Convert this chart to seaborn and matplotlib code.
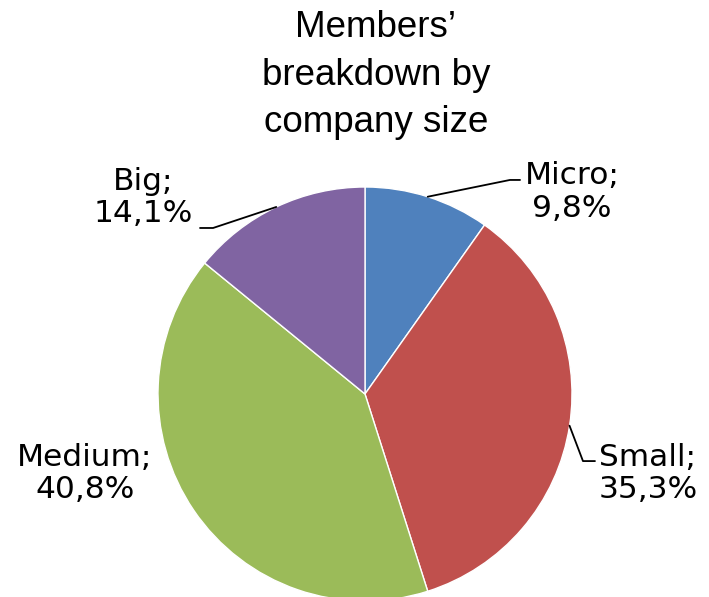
import matplotlib
matplotlib.use("Agg")
import matplotlib.pyplot as plt
import seaborn as sns

# data
sizes = ["Micro", "Small", "Medium", "Big"]
shares = [9.8, 35.3, 40.8, 14.1]
colours = ["#4F81BD", "#C0504D", "#9BBB59", "#8064A2"]

sns.set_style("white")
plt.rcParams['font.family'] = ['DejaVu Sans']
plt.rcParams['text.color'] = 'black'

fig = plt.figure(figsize=(7.09, 5.97), dpi=100)
W, H = 709, 597
cx, cy, r = 365, 394, 207  # pie centre / radius in pixels
ax = fig.add_axes([(cx - r) / W, (H - cy - r) / H, 2 * r / W, 2 * r / H])

wedges, _ = ax.pie(shares, colors=sns.color_palette(colours), startangle=90,
                   counterclock=False, radius=1,
                   wedgeprops=dict(edgecolor="white", linewidth=1))
ax.set_xlim(-1, 1)
ax.set_ylim(-1, 1)
ax.set_aspect("equal")
ax.axis("off")

def label(i):
    return f"{sizes[i]};\n{shares[i]:.1f}%".replace(".", ",")

# text positions and leader lines (data coords, radius = 1)
text_pos = [(1.0, 0.975), (1.367, -0.385), (-1.353, -0.385), (-1.072, 0.95)]
leaders = {
    0: [(0.303, 0.953), (0.70, 1.034), (0.749, 1.034)],
    1: [(0.988, -0.153), (1.053, -0.324), (1.111, -0.324)],
    3: [(-0.4286, 0.9035), (-0.734, 0.802), (-0.797, 0.802)],
}

for i in range(len(sizes)):
    x, y = text_pos[i]
    ax.text(x, y, label(i), ha="center", va="center", fontsize=22.5,
            linespacing=1.15, clip_on=False, color="black")
    if i in leaders:
        xs, ys = zip(*leaders[i])
        ax.plot(xs, ys, color="black", lw=1.3, clip_on=False)

fig.text(376 / W, 1 - 10 / H, "Members’\nbreakdown by\ncompany size",
         ha="center", va="top", fontsize=26.5, linespacing=1.47,
         family="Liberation Sans", color="black")

fig.savefig("out.png", dpi=100)
